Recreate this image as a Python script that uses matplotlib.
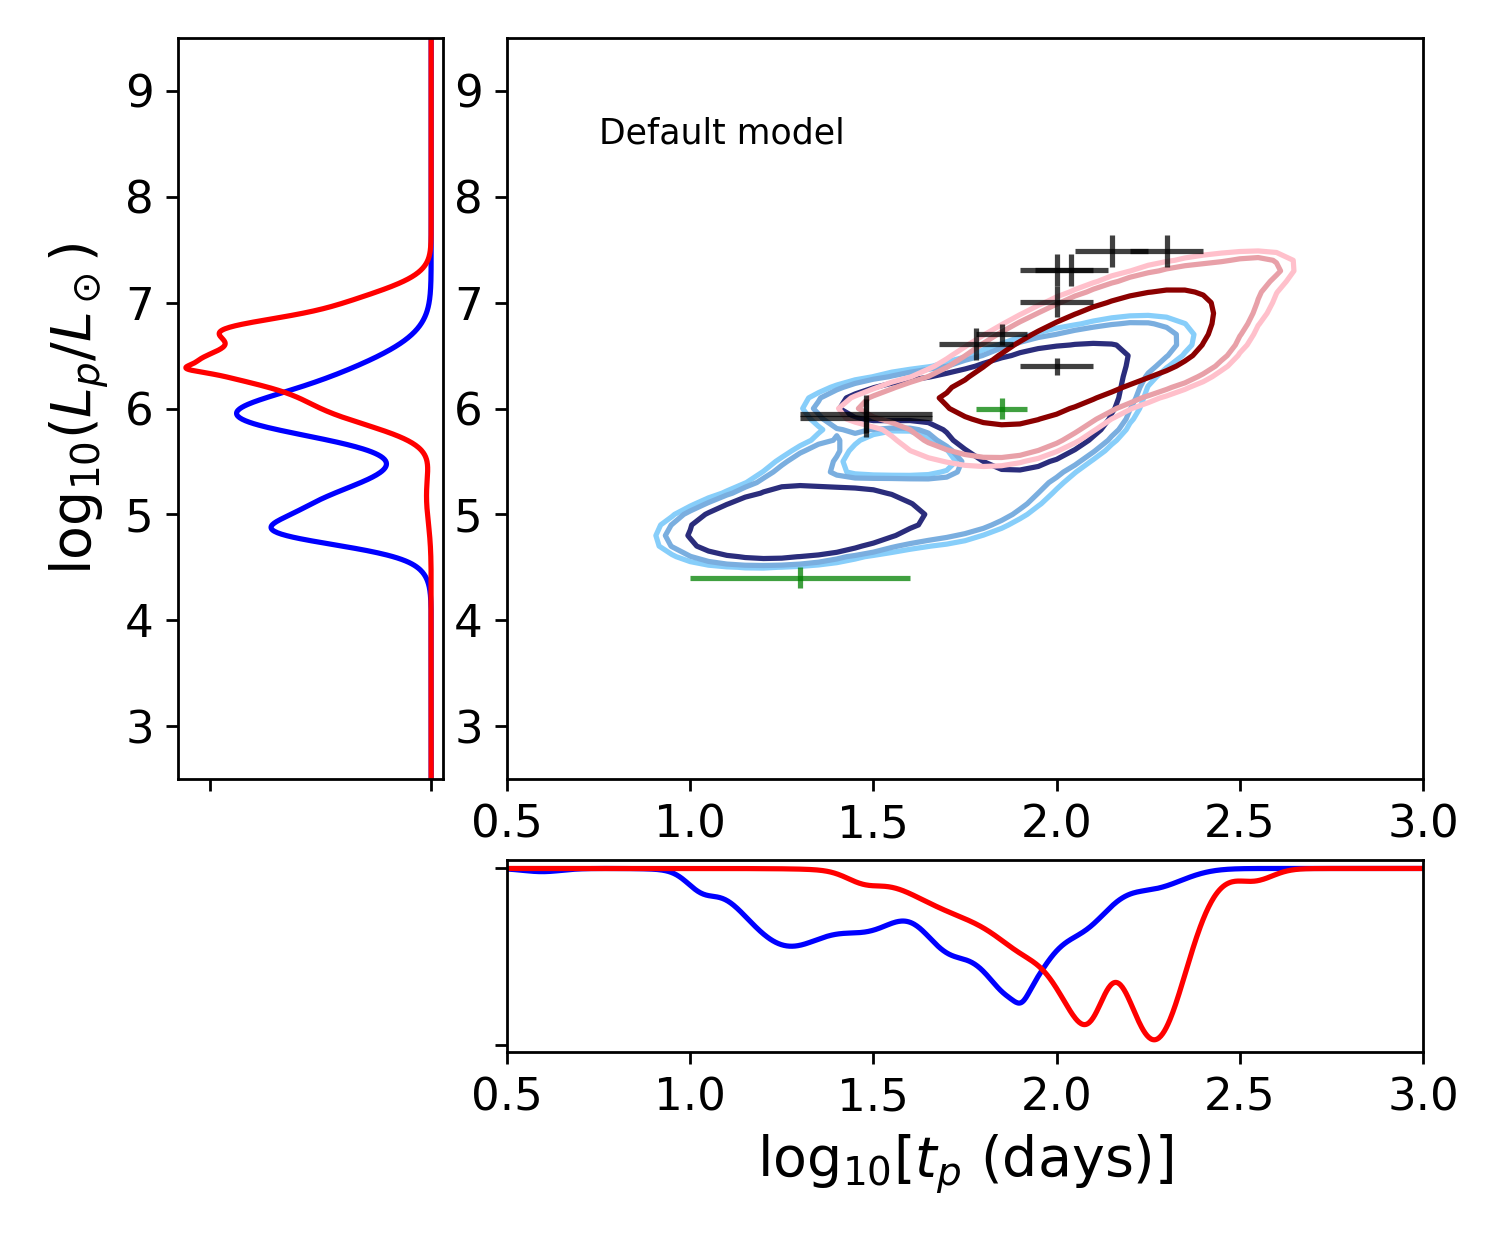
import numpy as np
import matplotlib
matplotlib.use("Agg")
import matplotlib.pyplot as plt

# observed events (log10 t_p, log10 L_p) with errors
obs_t = [1.48, 1.48, 1.78, 1.85, 2.00, 2.00, 2.00, 2.04, 2.15, 2.30]
obs_L = [5.95, 5.91, 6.61, 6.70, 6.40, 7.01, 7.31, 7.31, 7.49, 7.49]
obs_terr = [0.18, 0.18, 0.10, 0.07, 0.10, 0.10, 0.10, 0.10, 0.10, 0.10]
obs_Lerr = [0.18, 0.18, 0.15, 0.10, 0.08, 0.15, 0.15, 0.15, 0.15, 0.15]

grn_t = [1.30, 1.85]
grn_L = [4.40, 6.00]
grn_terr = [0.30, 0.07]
grn_Lerr = [0.10, 0.10]

# 2d density components: peak, t, L, sig_t, sig_L, rho
blue_peak = [1.00, 1.00, 0.40, 0.14, 0.14, 0.15, 0.15, 0.08, -0.12]
blue_t = [1.30, 1.93, 1.60, 1.80, 1.33, 2.20, 1.70, 1.60, 1.62]
blue_L = [4.91, 6.00, 6.05, 5.05, 5.50, 6.60, 6.25, 5.32, 5.55]
blue_st = [0.17, 0.13, 0.15, 0.14, 0.12, 0.14, 0.20, 0.12, 0.10]
blue_sL = [0.18, 0.30, 0.12, 0.25, 0.25, 0.22, 0.12, 0.08, 0.10]
blue_rho = [0.30, 0.25, 0.30, 0.60, 0.75, 0.30, 0.50, 0.00, 0.00]
blue_levels = [0.07, 0.10, 0.20]

red_peak = [1.00, 0.15, 0.15, 0.08, 0.10]
red_t = [2.08, 2.33, 1.60, 2.55, 1.92]
red_L = [6.50, 6.50, 6.08, 7.32, 5.70]
red_st = [0.22, 0.10, 0.14, 0.07, 0.12]
red_sL = [0.40, 0.20, 0.14, 0.10, 0.18]
red_rho = [0.72, 0.30, 0.50, 0.30, 0.50]
red_levels = [0.06, 0.10, 0.30]

# marginal kde components: amplitude, centre, width
bL_amp = [0.431, 0.517, 0.304, 0.543]
bL_cen = [5.905, 6.100, 4.822, 5.027]
bL_wid = [0.175, 0.318, 0.116, 0.248]
rL_amp = [0.417, 0.070, 1.002, 0.381, 0.421, 0.021]
rL_cen = [6.007, 6.375, 6.427, 6.744, 6.898, 5.174]
rL_wid = [0.185, 0.030, 0.191, 0.100, 0.195, 0.253]
bT_amp = [0.018, 0.079, 0.430, 0.284, 0.354, 0.718, 0.041, 0.260, 0.110]
bT_cen = [0.596, 1.030, 1.265, 1.506, 1.699, 1.886, 1.905, 2.080, 2.258]
bT_wid = [0.052, 0.040, 0.119, 0.092, 0.068, 0.092, 0.018, 0.069, 0.083]
rT_amp = [0.249, 0.049, 0.342, 0.365, 0.963, 0.377, 0.065, 0.012]
rT_cen = [1.768, 1.473, 1.952, 2.099, 2.267, 2.045, 2.540, 1.900]
rT_wid = [0.151, 0.047, 0.090, 0.043, 0.085, 0.053, 0.050, 0.300]


def kde(x, amp, cen, wid):
    out = np.zeros_like(x)
    for a, c, w in zip(amp, cen, wid):
        out += a * np.exp(-0.5 * ((x - c) / w) ** 2)
    return out


def density(T, L, peak, mt, mL, st, sL, rho):
    Z = np.zeros_like(T)
    for p, a, b, sa, sb, r in zip(peak, mt, mL, st, sL, rho):
        dx = (T - a) / sa
        dy = (L - b) / sb
        Z += p * np.exp(-0.5 * (dx * dx + dy * dy - 2 * r * dx * dy) / (1 - r * r))
    return Z


tgrid = np.arange(0.5, 3.0001, 0.05)
Lgrid = np.arange(2.5, 9.5001, 0.1)
T, L = np.meshgrid(tgrid, Lgrid)
Zb = density(T, L, blue_peak, blue_t, blue_L, blue_st, blue_sL, blue_rho)
Zr = density(T, L, red_peak, red_t, red_L, red_st, red_sL, red_rho)

fig = plt.figure(figsize=(6, 5), dpi=250)
ax_main = fig.add_axes([0.338, 0.3768, 0.6107, 0.5928])
ax_left = fig.add_axes([0.1187, 0.3768, 0.1767, 0.5928])
ax_bot = fig.add_axes([0.338, 0.1584, 0.6107, 0.1536])

ax_main.contour(T, L, Zb, levels=blue_levels, colors=["#87cefa", "#7aaedf", "#2b2d7c"], linewidths=1.5)
ax_main.contour(T, L, Zr, levels=red_levels, colors=["#ffc0cb", "#e8a0a8", "#8b0000"], linewidths=1.5)
ax_main.errorbar(obs_t, obs_L, xerr=obs_terr, yerr=obs_Lerr, fmt="none", ecolor="k", alpha=0.75, lw=1.5)
ax_main.errorbar(grn_t, grn_L, xerr=grn_terr, yerr=grn_Lerr, fmt="none", ecolor="green", alpha=0.75, lw=1.5)
ax_main.text(0.75, 8.5, "Default model", fontsize=10)
ax_main.set_xlim(0.5, 3.0)
ax_main.set_ylim(2.5, 9.5)
ax_main.set_xticks(np.arange(0.5, 3.01, 0.5))
ax_main.set_yticks(range(3, 10))
ax_main.tick_params(labelsize=13)

Ls = np.linspace(2.5, 9.5, 1000)
ax_left.plot(kde(Ls, bL_amp, bL_cen, bL_wid), Ls, color="b")
ax_left.plot(kde(Ls, rL_amp, rL_cen, rL_wid), Ls, color="r")
ax_left.set_xlim(1.145, -0.054)
ax_left.set_ylim(2.5, 9.5)
ax_left.set_xticks([0, 1])
ax_left.set_xticklabels([])
ax_left.set_yticks(range(3, 10))
ax_left.tick_params(labelsize=13)
ax_left.set_ylabel(r"log$_{10}$($L_p$/$L_\odot$)", fontsize=16)

ts = np.linspace(0.5, 3.0, 1000)
ax_bot.plot(ts, kde(ts, bT_amp, bT_cen, bT_wid), color="b")
ax_bot.plot(ts, kde(ts, rT_amp, rT_cen, rT_wid), color="r")
ax_bot.set_xlim(0.5, 3.0)
ax_bot.set_ylim(1.04, -0.048)
ax_bot.set_yticks([0, 1])
ax_bot.set_yticklabels([])
ax_bot.set_xticks(np.arange(0.5, 3.01, 0.5))
ax_bot.tick_params(labelsize=13)
ax_bot.set_xlabel(r"log$_{10}$[$t_p$ (days)]", fontsize=16)

fig.savefig("out.png", dpi=250)
